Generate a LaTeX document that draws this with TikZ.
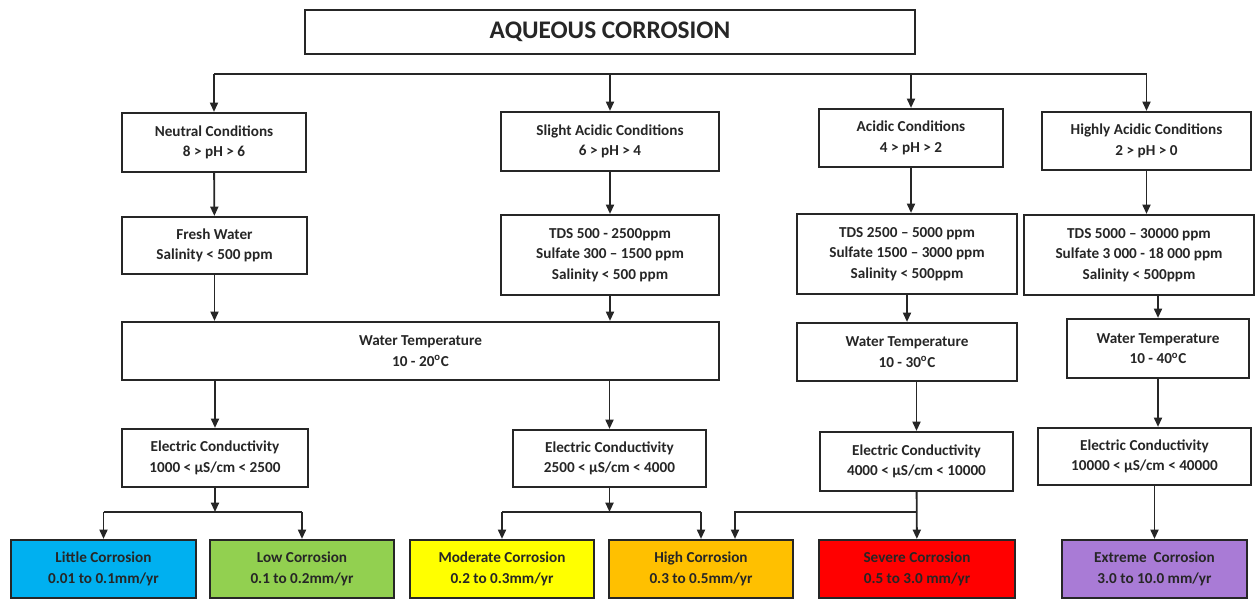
\documentclass[tikz,border=0pt]{standalone}
\usepackage{fontspec}
\setmainfont{Carlito}
\usetikzlibrary{arrows.meta}

\definecolor{ink}{HTML}{262626}
\definecolor{little}{HTML}{00B0F0}
\definecolor{low}{HTML}{92D050}
\definecolor{moderate}{HTML}{FFFF00}
\definecolor{high}{HTML}{FFC000}
\definecolor{severe}{HTML}{FF0000}
\definecolor{extreme}{HTML}{A97BD6}

\tikzset{
    box/.style={draw=ink, line width=1.6pt, fill=white, align=center,
        inner sep=0pt, font=\fontsize{11.4}{15.5}\selectfont\bfseries,
        text=ink},
    wh/.style 2 args={minimum width=#1*0.75pt, minimum height=#2*0.75pt},
    arr/.style={draw=ink, line width=1.4pt,
        -{Triangle[length=7pt, width=6pt]}},
    bus/.style={draw=ink, line width=1.4pt}
}

\begin{document}
\begin{tikzpicture}[x=0.75pt, y=-0.75pt]
        \useasboundingbox (0,0) rectangle (1257,599);
        % top row
        \node[box, wh={610}{44},
            font=\fontsize{19}{21}\selectfont\bfseries] (title) at (610,32)
            {AQUEOUS CORROSION};
        \node[box, wh={184}{59}] (neutral) at (214,142.5)
            {Neutral Conditions\\8 > pH > 6};
        \node[box, wh={218}{59}] (slight) at (610,141.5)
            {Slight Acidic Conditions\\6 > pH > 4};
        \node[box, wh={184}{58}] (acidic) at (911,138)
            {Acidic Conditions\\4 > pH > 2};
        \node[box, wh={209}{58}] (highly) at (1146.5,141)
            {Highly Acidic Conditions\\2 > pH > 0};
        % water quality
        \node[box, wh={185}{57}] (fresh) at (214.5,245.5)
            {Fresh Water\\Salinity < 500 ppm};
        \node[box, wh={218}{80}] (tdsslight) at (610,255)
            {TDS 500 - 2500ppm\\Sulfate 300 -- 1500 ppm\\Salinity < 500 ppm};
        \node[box, wh={220}{80}] (tdsacidic) at (907,254)
            {TDS 2500 -- 5000 ppm\\Sulfate 1500 -- 3000 ppm\\Salinity < 500ppm};
        \node[box, wh={230}{80}] (tdshighly) at (1139,255)
            {TDS 5000 -- 30000 ppm\\Sulfate 3 000 - 18 000 ppm\\Salinity < 500ppm};
        % temperature
        \node[box, wh={597}{58}] (templow) at (420.5,351)
            {Water Temperature\\10 - 20\textsuperscript{o}C};
        \node[box, wh={220}{58}] (tempmid) at (907,352)
            {Water Temperature\\10 - 30\textsuperscript{o}C};
        \node[box, wh={182}{59}] (temphigh) at (1158,348.5)
            {Water Temperature\\10 - 40\textsuperscript{o}C};
        % conductivity
        \node[box, wh={186}{58}] (ecneutral) at (215,458)
            {Electric Conductivity\\1000 < µS/cm < 2500};
        \node[box, wh={193}{57}] (ecslight) at (609.5,458.5)
            {Electric Conductivity\\2500 < µS/cm < 4000};
        \node[box, wh={193}{59}] (ecacidic) at (916.5,461.5)
            {Electric Conductivity\\4000 < µS/cm < 10000};
        \node[box, wh={213}{57}] (echighly) at (1144.5,456.5)
            {Electric Conductivity\\10000 < µS/cm < 40000};
        % corrosion rates
        \node[box, fill=little, wh={185}{58}] (little) at (103.5,569)
            {Little Corrosion\\0.01 to 0.1mm/yr};
        \node[box, fill=low, wh={184}{58}] (low) at (302,569)
            {Low Corrosion\\0.1 to 0.2mm/yr};
        \node[box, fill=moderate, wh={184}{58}] (moderate) at (502,569)
            {Moderate Corrosion\\0.2 to 0.3mm/yr};
        \node[box, fill=high, wh={184}{58}] (high) at (701,569)
            {High Corrosion\\0.3 to 0.5mm/yr};
        \node[box, fill=severe, wh={196}{58}] (severe) at (917,569)
            {Severe Corrosion\\0.5 to 3.0 mm/yr};
        \node[box, fill=extreme, wh={185}{58}] (extreme) at (1154.5,569)
            {Extreme\ \ Corrosion\\3.0 to 10.0 mm/yr};

        \coordinate (topbus) at (610,74);
        \coordinate (lowbus) at (610,512);

        % from the title row
        \draw[bus] (neutral.north |- topbus) -- (highly.north |- topbus);
        \foreach \n in {neutral, slight, acidic, highly}
            \draw[arr] (\n.north |- topbus) -- (\n.north);
        \draw[arr] (neutral) -- (fresh);
        \draw[arr] (slight) -- (tdsslight);
        \draw[arr] (acidic.south) -- (acidic.south |- tdsacidic.north);
        \draw[arr] (highly.south) -- (highly.south |- tdshighly.north);
        \draw[arr] (fresh.south) -- (fresh.south |- templow.north);
        \draw[arr] (tdsslight.south) -- (tdsslight.south |- templow.north);
        \draw[arr] (tdsacidic) -- (tempmid);
        \draw[arr] (temphigh.north |- tdshighly.south) -- (temphigh.north);
        \draw[arr] (ecneutral.north |- templow.south) -- (ecneutral.north);
        \draw[arr] (ecslight.north |- templow.south) -- (ecslight.north);
        \draw[arr] (ecacidic.north |- tempmid.south) -- (ecacidic.north);
        \draw[arr] (temphigh.south) -- (temphigh.south |- echighly.north);

        % down to the corrosion rates
        \draw[arr] (ecneutral.south) -- (ecneutral.south |- lowbus);
        \draw[bus] (little.north |- lowbus) -- (low.north |- lowbus);
        \draw[arr] (little.north |- lowbus) -- (little.north);
        \draw[arr] (low.north |- lowbus) -- (low.north);
        \draw[arr] (ecslight.south) -- (ecslight.south |- lowbus);
        \draw[bus] (moderate.north |- lowbus) -- (high.north |- lowbus);
        \draw[arr] (moderate.north |- lowbus) -- (moderate.north);
        \draw[arr] (high.north |- lowbus) -- (high.north);
        \draw[arr] (ecacidic) -- (severe);
        \draw[arr] (ecacidic.south |- lowbus) -| ([xshift=25.5pt]high.north);
        \draw[arr] (extreme.north |- echighly.south) -- (extreme.north);
    \end{tikzpicture}
\end{document}
